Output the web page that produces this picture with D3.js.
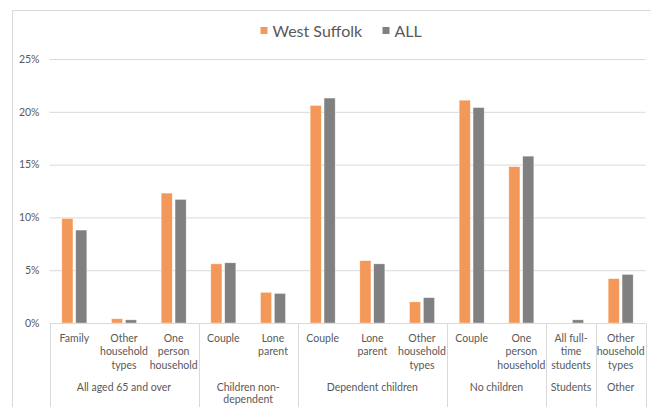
<!DOCTYPE html>
<html>
<head>
<meta charset="utf-8">
<script src="https://cdn.jsdelivr.net/npm/d3@7"></script>
<style>
  html, body { margin: 0; padding: 0; background: #fff; }
  svg { display: block; font-family: Lato, "Liberation Sans", sans-serif; }
</style>
</head>
<body>
<svg id="chart" width="651" height="407"></svg>
<script>
// Household type shares, West Suffolk vs all areas
const categories = [
  "Family", "Other|household|types", "One|person|household",
  "Couple", "Lone|parent",
  "Couple", "Lone|parent", "Other|household|types",
  "Couple", "One|person|household",
  "All full-|time|students",
  "Other|household|types"
];
const groupNames = ["All aged 65 and over", "Children non-|dependent", "Dependent children", "No children", "Students", "Other"];
const groupSizes = [3, 2, 3, 2, 1, 1];
const seriesNames = ["West Suffolk", "ALL"];
const westSuffolk = [9.9, 0.4, 12.3, 5.6, 2.9, 20.6, 5.9, 2.0, 21.1, 14.8, 0.0, 4.2];
const allAreas    = [8.8, 0.3, 11.7, 5.7, 2.8, 21.3, 5.6, 2.4, 20.4, 15.8, 0.3, 4.6];
const yTicks = [0, 5, 10, 15, 20, 25];
const colors = ["#F39858", "#808080"];

const svg = d3.select("#chart");
const textColor = "#595959";
const lineColor = "#d9d9d9";

// outer chart frame
svg.append("rect")
  .attr("x", 12.5).attr("y", 10.5)
  .attr("width", 700).attr("height", 500)
  .attr("fill", "none").attr("stroke", lineColor);

const plotLeft = 49.5, plotRight = 645.5, plotTop = 59, plotBottom = 323;

const x = d3.scaleBand()
  .domain(d3.range(categories.length))
  .range([plotLeft, plotRight])
  .paddingInner(0).paddingOuter(0);

const xs = d3.scaleBand()
  .domain(seriesNames)
  .range([0, 25])
  .paddingInner(0.2);

const y = d3.scaleLinear().domain([0, 25]).range([plotBottom, plotTop]);

// value axis with gridlines
const yAxis = d3.axisLeft(y)
  .tickValues(yTicks)
  .tickFormat(d => d + "%")
  .tickSize(-(plotRight - plotLeft))
  .tickPadding(10);

const gy = svg.append("g")
  .attr("transform", `translate(${plotLeft},0)`)
  .call(yAxis);
gy.select(".domain").remove();
gy.selectAll(".tick line")
  .attr("stroke", lineColor)
  .attr("stroke-width", 1)
  .filter(d => d === 0).remove();
gy.selectAll(".tick text")
  .attr("fill", textColor)
  .attr("font-size", "10.5px")
  .attr("font-family", "Lato, 'Liberation Sans', sans-serif");

// bars
const data = categories.map((c, i) => ({ i, values: [westSuffolk[i], allAreas[i]] }));
const cat = svg.append("g").selectAll("g")
  .data(data).join("g")
  .attr("transform", d => `translate(${x(d.i) + (x.bandwidth() - 25) / 2},0)`);

cat.selectAll("rect")
  .data(d => d.values.map((v, k) => ({ v, k })))
  .join("rect")
  .attr("x", d => xs(seriesNames[d.k]))
  .attr("width", xs.bandwidth())
  .attr("y", d => y(d.v))
  .attr("height", d => Math.max(0, y(0) - y(d.v)))
  .attr("fill", d => colors[d.k])
  .attr("stroke", d => d.v > 0 ? "#ffffff" : "none")
  .attr("stroke-opacity", 0.6)
  .attr("stroke-width", 0.6);

// category axis baseline
const axisG = svg.append("g");
axisG.append("line")
  .attr("x1", plotLeft).attr("x2", plotRight)
  .attr("y1", plotBottom + 0.5).attr("y2", plotBottom + 0.5)
  .attr("stroke", lineColor);

// group separators
const starts = [0];
groupSizes.forEach((s, k) => starts.push(starts[k] + s));
starts.forEach(idx => {
  const xp = idx < categories.length ? x(idx) : plotRight;
  axisG.append("line")
    .attr("x1", Math.round(xp) + 0.5).attr("x2", Math.round(xp) + 0.5)
    .attr("y1", plotBottom).attr("y2", 407)
    .attr("stroke", lineColor);
});

function multiline(sel, str, cx, y0, lh) {
  const t = sel.append("text")
    .attr("text-anchor", "middle")
    .attr("fill", textColor)
    .attr("font-size", "10.5px");
  str.split("|").forEach((line, j) => {
    t.append("tspan").attr("x", cx).attr("y", y0 + j * lh).text(line);
  });
}

categories.forEach((c, i) => {
  multiline(axisG, c, x(i) + x.bandwidth() / 2, 341.5, 13.6);
});

groupNames.forEach((g, k) => {
  const x0 = x(starts[k]);
  const x1 = starts[k + 1] < categories.length ? x(starts[k + 1]) : plotRight;
  multiline(axisG, g, (x0 + x1) / 2, 390.5, 12.8);
});

// legend
const legend = svg.append("g");
const legendX = [260.5, 382.5];
seriesNames.forEach((s, k) => {
  legend.append("rect")
    .attr("x", legendX[k]).attr("y", 27)
    .attr("width", 7).attr("height", 7)
    .attr("fill", colors[k]);
  legend.append("text")
    .attr("x", legendX[k] + 12).attr("y", 36.5)
    .attr("fill", textColor)
    .attr("font-size", "16px")
    .text(s);
});
</script>
</body>
</html>
